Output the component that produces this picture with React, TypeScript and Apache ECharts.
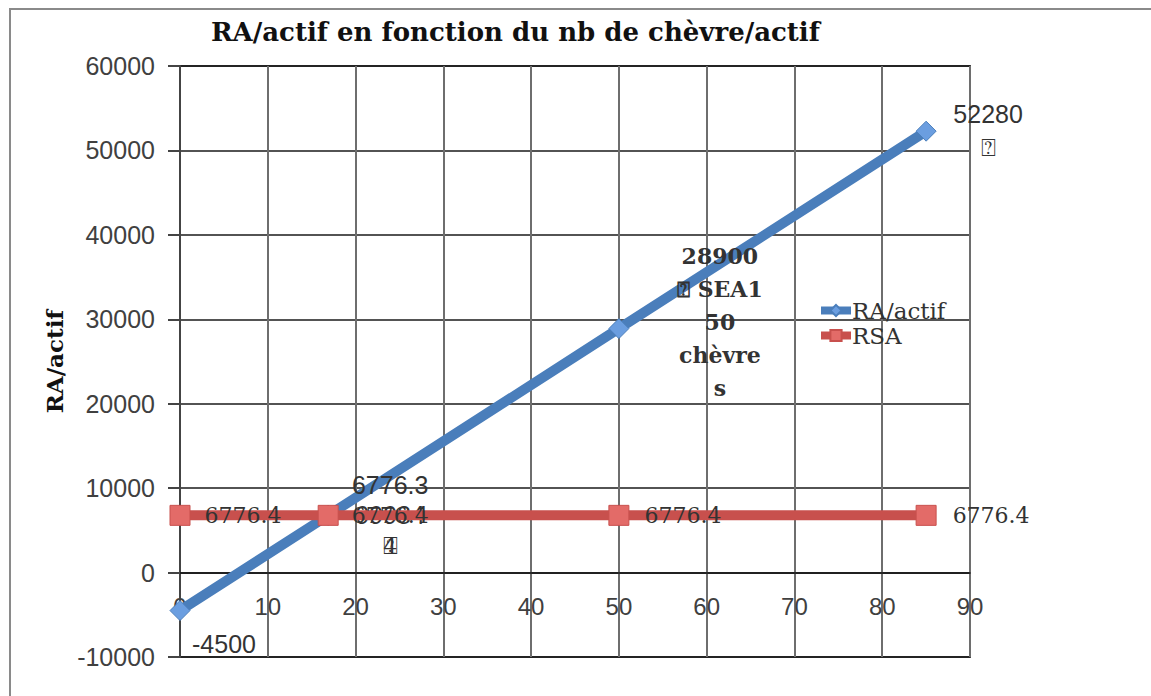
import React, { useEffect, useRef } from "react";
import * as echarts from "echarts";

const xValues = [0, 16.8808, 50, 85];
const raValues = [-4500, 6776.399984, 28900, 52280];
const rsaValues = [6776.4, 6776.4, 6776.4, 6776.4];
const raLabels = ["-4500", "6776.3\n99984\n⍰", "28900\n⍰ SEA1\n50\nchèvre\ns", "52280\n⍰"];
const rsaLabels = ["6776.4", "6776.4\n4", "6776.4", "6776.4"];
const seriesNames = ["RA/actif", "RSA"];
const titleText = "RA/actif en fonction du nb de chèvre/actif";
const yAxisName = "RA/actif";
const xMin = 0, xMax = 90, xStep = 10;
const yMin = -10000, yMax = 60000, yStep = 10000;

export default function App() {
  const ref = useRef<HTMLDivElement>(null);
  useEffect(() => {
    document.body.style.margin = "0";
    const chart = echarts.init(ref.current!, null, { renderer: "svg" });
    const sans = "Liberation Sans";
    const serif = "DejaVu Serif";
    const gridTop = 66;
    const gridBottom = 39;
    const gridHeight = 696 - gridTop - gridBottom;
    const zeroOffset = -gridHeight * (0 - yMin) / (yMax - yMin);
    const raOffsets = [[44, 33], [62, 0], [101, -7], [62, -1]];
    const rsaOffsets = [[63, 0], [62, 16], [64, 0], [65, 0]];
    const raLabelStyles = [
      { fontFamily: sans, fontSize: 25, lineHeight: 30, fontWeight: "normal" },
      { fontFamily: sans, fontSize: 25, lineHeight: 30, fontWeight: "normal" },
      { fontFamily: serif, fontSize: 22, lineHeight: 33, fontWeight: "bold" },
      { fontFamily: sans, fontSize: 25, lineHeight: 33, fontWeight: "normal" },
    ];
    const raData = xValues.map((x, i) => ({
      value: [x, raValues[i]],
      label: {
        show: true,
        formatter: raLabels[i],
        position: "inside",
        offset: raOffsets[i],
        align: "center",
        verticalAlign: "middle",
        color: "#333",
        textBorderWidth: 0,
        ...raLabelStyles[i],
      },
    }));
    const rsaData = xValues.map((x, i) => ({
      value: [x, rsaValues[i]],
      label: {
        show: true,
        formatter: rsaLabels[i],
        position: "inside",
        offset: rsaOffsets[i],
        align: "center",
        verticalAlign: "middle",
        color: "#333",
        textBorderWidth: 0,
        fontFamily: serif,
        fontSize: 22,
        lineHeight: 31,
      },
    }));
    chart.setOption({
      animation: false,
      backgroundColor: "#fff",
      title: {
        text: titleText,
        left: 206,
        top: 14,
        textStyle: { fontFamily: serif, fontWeight: "bold", fontSize: 26, color: "#111" },
      },
      graphic: [
        {
          type: "rect",
          shape: { x: 10, y: 9, width: 1300, height: 900 },
          style: { fill: "none", stroke: "#8a8a8a", lineWidth: 2 },
          silent: true,
          z: -10,
        },
      ],
      legend: {
        orient: "vertical",
        left: 812,
        top: 293,
        itemGap: 0,
        itemWidth: 30,
        itemHeight: 14,
        data: seriesNames,
        lineStyle: { width: 8 },
        textStyle: { fontFamily: serif, fontSize: 23, color: "#333", lineHeight: 25, padding: [0, 0, 0, -4] },
      },
      grid: {
        left: 180,
        top: gridTop,
        right: 181,
        bottom: gridBottom,
        show: true,
        borderColor: "#444",
        borderWidth: 2,
        containLabel: false,
        outerBoundsMode: "none",
      },
      xAxis: {
        type: "value",
        min: xMin,
        max: xMax,
        interval: xStep,
        offset: zeroOffset,
        axisLine: { onZero: false, lineStyle: { color: "#111", width: 1.5 } },
        axisTick: { show: false },
        axisLabel: { margin: 22, fontFamily: sans, fontSize: 24, color: "#404040" },
        splitLine: { show: true, lineStyle: { color: "#6e6e6e", width: 2 } },
      },
      yAxis: {
        type: "value",
        min: yMin,
        max: yMax,
        interval: yStep,
        name: yAxisName,
        nameLocation: "middle",
        nameGap: 108,
        nameTextStyle: { fontFamily: serif, fontWeight: "bold", fontSize: 23, color: "#111" },
        axisLine: { show: true, onZero: false, lineStyle: { color: "#444", width: 2 } },
        axisTick: { show: true, length: 12, lineStyle: { color: "#444", width: 2 } },
        axisLabel: {
          margin: 25,
          fontFamily: sans,
          fontSize: 25,
          color: "#404040",
          formatter: (v: number) => String(v),
        },
        splitLine: { show: true, lineStyle: { color: "#1a1a1a", width: 1.5 } },
      },
      series: [
        {
          name: seriesNames[0],
          type: "line",
          data: raData,
          symbol: "diamond",
          symbolSize: 20,
          color: "#4a7ebb",
          lineStyle: { color: "#4a7ebb", width: 10 },
          itemStyle: { color: "#6b9ee0", borderColor: "#4a7ebb", borderWidth: 1 },
          z: 2,
        },
        {
          name: seriesNames[1],
          type: "line",
          data: rsaData,
          symbol: "rect",
          symbolSize: 20,
          color: "#c0504d",
          lineStyle: { color: "#c8504d", width: 10 },
          itemStyle: { color: "#e36b68", borderColor: "#c8504d", borderWidth: 1 },
          z: 3,
        },
      ],
    });
    return () => chart.dispose();
  }, []);
  return <div ref={ref} style={{ width: 1151, height: 696 }} />;
}
